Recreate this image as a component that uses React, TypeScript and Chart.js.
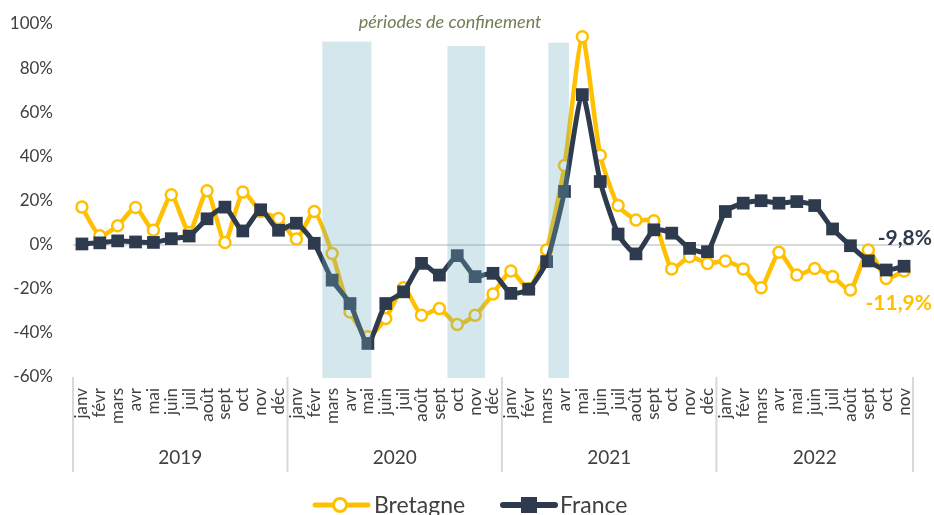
import { useEffect, useRef } from 'react';
import { Chart, registerables } from 'chart.js';

Chart.register(...registerables);

const months = ['janv', 'févr', 'mars', 'avr', 'mai', 'juin', 'juil', 'août', 'sept', 'oct', 'nov', 'déc'];
const years = ['2019', '2020', '2021', '2022'];

const bretagne = [
  17, 4, 8.6, 16.8, 6.5, 22.6, 5.5, 24.4, 1, 23.8, 15, 11.8,
  2.5, 15, -4, -30.5, -41.8, -33.5, -19.5, -32, -29, -36.2, -32, -22.4,
  -12, -20, -2.4, 35.9, 94.2, 40.5, 17.7, 11.2, 10.8, -11, -5.5, -8.5,
  -7.4, -11, -19.5, -3.5, -13.8, -10.8, -14.5, -20.6, -2.4, -15.3, -11.9,
];

const france = [
  0.3, 0.8, 1.7, 1.2, 1.0, 2.7, 3.9, 11.7, 17, 6.2, 15.8, 6.5,
  9.7, 0.6, -16.1, -26.7, -44.8, -26.7, -21.4, -8.5, -13.8, -5, -14.5, -13,
  -22.1, -20.2, -7.7, 24.1, 68, 28.6, 4.8, -4.2, 6.7, 5.2, -1.7, -3.2,
  15, 18.8, 19.9, 18.8, 19.5, 17.7, 7.1, -0.5, -7.4, -11.5, -9.8,
];

const yMin = -60;
const yMax = 100;
const yStep = 20;

// confinement periods: [start index, end index, top value %]
const confinementBands = [
  [13.45, 16.2, 92],
  [20.45, 22.55, 90],
  [26.1, 27.25, 91.5],
];
const bandTitle = 'périodes de confinement';
const bandTitleIndex = 20.6;

const seriesNames = ['Bretagne', 'France'];

const YELLOW = '#FFC000';
const NAVY = '#2E3B4E';
const TEXT = '#404040';
const FONT = 'Lato, "Open Sans", sans-serif';

const labels = years.flatMap(() => months).slice(0, france.length);

const fmt = (v: number) => (v.toFixed(1).replace('.', ',') + '%');

export default function App() {
  const ref = useRef<HTMLCanvasElement>(null);

  useEffect(() => {
    if (!ref.current) return;

    const overlay = {
      id: 'overlay',
      afterDatasetsDraw(chart: any) {
        const { ctx, chartArea, scales } = chart;
        const x = scales.x;
        const y = scales.y;
        const slot = (chartArea.right - chartArea.left) / labels.length;
        const idxToPx = (i: number) => x.getPixelForValue(0) + i * slot;
        ctx.save();
        ctx.fillStyle = 'rgba(111,176,193,0.3)';
        for (const [s, e, top] of confinementBands) {
          const x0 = idxToPx(s);
          const x1 = idxToPx(e);
          const y0 = y.getPixelForValue(top);
          const y1 = y.getPixelForValue(yMin) + 1;
          ctx.fillRect(x0, y0, x1 - x0, y1 - y0);
        }
        // title
        ctx.fillStyle = '#6f7d52';
        ctx.font = `italic 18px ${FONT}`;
        ctx.textAlign = 'center';
        ctx.textBaseline = 'middle';
        ctx.fillText(bandTitle, idxToPx(bandTitleIndex), chartArea.top - 2);

        // end labels
        const mF = chart.getDatasetMeta(1).data;
        const mB = chart.getDatasetMeta(0).data;
        const pf = mF[mF.length - 1];
        const pb = mB[mB.length - 1];
        ctx.font = `bold 21px ${FONT}`;
        ctx.textAlign = 'right';
        ctx.fillStyle = NAVY;
        ctx.fillText(fmt(france[france.length - 1]), chartArea.right + 19, pf.y - 28);
        ctx.fillStyle = YELLOW;
        ctx.fillText(fmt(bretagne[bretagne.length - 1]), chartArea.right + 19, pb.y + 32);

        // year dividers and labels
        ctx.strokeStyle = '#d9d9d9';
        ctx.lineWidth = 2;
        const perYear = months.length;
        for (let k = 0; k <= years.length; k++) {
          const px = Math.min(chartArea.left + k * perYear * slot, chartArea.right);
          ctx.beginPath();
          ctx.moveTo(px, chartArea.bottom);
          ctx.lineTo(px, chartArea.bottom + 95);
          ctx.stroke();
        }
        ctx.fillStyle = TEXT;
        ctx.font = `19px ${FONT}`;
        ctx.textAlign = 'center';
        years.forEach((yr, k) => {
          const start = chartArea.left + k * perYear * slot;
          const end = Math.min(chartArea.left + (k + 1) * perYear * slot, chartArea.right);
          ctx.fillText(yr, (start + end) / 2, chartArea.bottom + 81);
        });

        // legend
        const ly = chartArea.bottom + 128;
        ctx.lineCap = 'round';
        ctx.strokeStyle = YELLOW;
        ctx.lineWidth = 5;
        ctx.beginPath();
        ctx.moveTo(315, ly);
        ctx.lineTo(368, ly);
        ctx.stroke();
        ctx.beginPath();
        ctx.arc(340, ly, 6.5, 0, Math.PI * 2);
        ctx.fillStyle = '#fff';
        ctx.fill();
        ctx.lineWidth = 3;
        ctx.stroke();
        ctx.fillStyle = TEXT;
        ctx.font = `23px ${FONT}`;
        ctx.textAlign = 'left';
        ctx.fillText(seriesNames[0], 374, ly + 1);

        ctx.strokeStyle = NAVY;
        ctx.lineWidth = 6;
        ctx.beginPath();
        ctx.moveTo(503, ly);
        ctx.lineTo(555, ly);
        ctx.stroke();
        ctx.fillStyle = NAVY;
        ctx.fillRect(521, ly - 8, 16, 16);
        ctx.fillStyle = TEXT;
        ctx.fillText(seriesNames[1], 560, ly + 1);
        ctx.restore();
      },
    };

    const chart = new Chart(ref.current, {
      type: 'line',
      data: {
        labels,
        datasets: [
          {
            label: seriesNames[0],
            data: bretagne,
            borderColor: YELLOW,
            backgroundColor: '#fff',
            borderWidth: 4.5,
            pointRadius: 5.5,
            pointBorderWidth: 2.5,
            pointBackgroundColor: '#fff',
            pointBorderColor: YELLOW,
            tension: 0.2,
            order: 2,
          },
          {
            label: seriesNames[1],
            data: france,
            borderColor: NAVY,
            backgroundColor: NAVY,
            borderWidth: 5,
            pointStyle: 'rect',
            pointRadius: 9,
            pointBorderWidth: 0,
            pointBackgroundColor: NAVY,
            tension: 0.2,
            order: 1,
          },
        ],
      },
      options: {
        responsive: false,
        animation: false,
        layout: { padding: { top: 24, right: 21, left: 0, bottom: 0 } },
        plugins: {
          legend: { display: false },
          tooltip: { enabled: false },
        },
        scales: {
          x: {
            offset: true,
            grid: { display: false, drawTicks: false },
            border: { display: false },
            ticks: {
              autoSkip: false,
              minRotation: 90,
              maxRotation: 90,
              padding: 11,
              color: TEXT,
              font: { family: FONT, size: 17 },
            },
            afterFit(scale: any) {
              scale.height = 138;
              scale.paddingLeft = 0;
              scale.paddingRight = 0;
            },
          },
          y: {
            min: yMin,
            max: yMax,
            border: { display: false },
            grid: {
              drawTicks: false,
              color: (c: any) => (c.tick && c.tick.value === 0 ? '#d9d9d9' : 'rgba(0,0,0,0)'),
              lineWidth: 2,
            },
            ticks: {
              stepSize: yStep,
              padding: 20,
              color: TEXT,
              font: { family: FONT, size: 17 },
              callback: (v: any) => `${v}%`,
            },
            afterFit(scale: any) {
              scale.width = 73;
              scale.paddingTop = 0;
              scale.paddingBottom = 0;
            },
          },
        },
      },
      plugins: [overlay],
    });

    return () => chart.destroy();
  }, []);

  return (
    <div style={{ position: 'fixed', left: 0, top: 0, width: 934, height: 515, background: '#fff' }}>
      <canvas ref={ref} width={934} height={515} style={{ display: 'block' }} />
    </div>
  );
}
